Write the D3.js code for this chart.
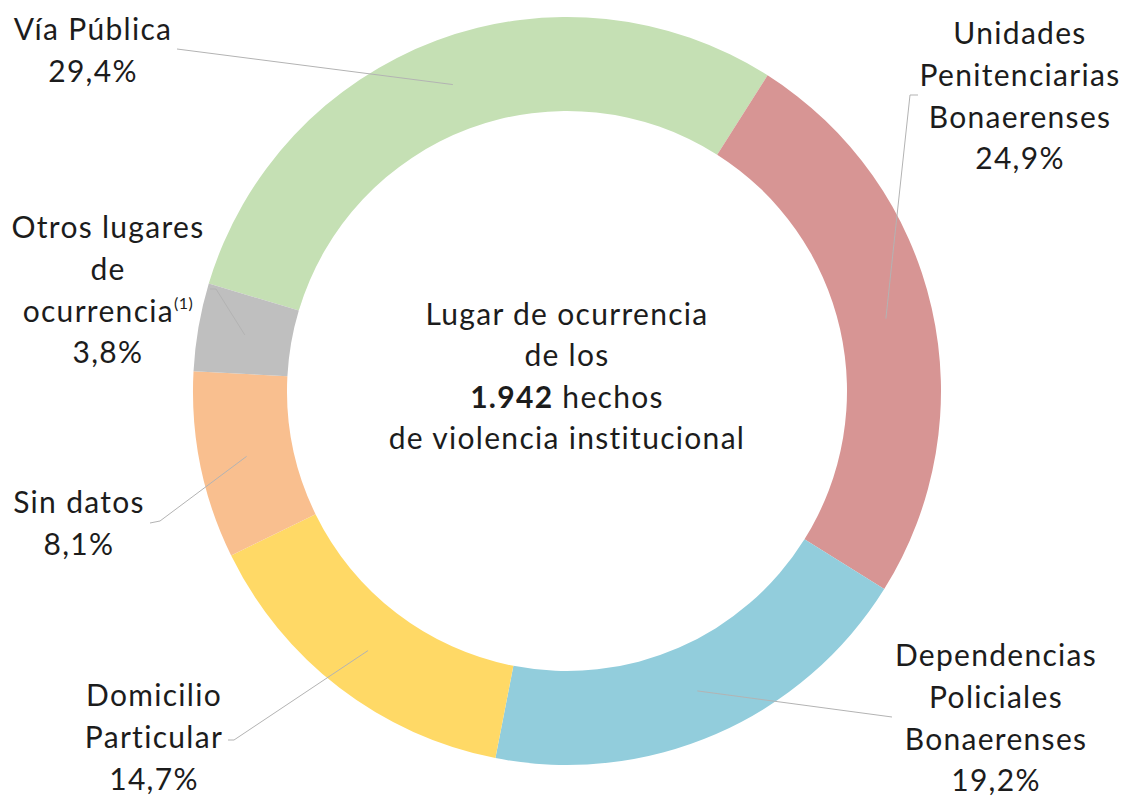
<!DOCTYPE html>
<html>
<head>
<meta charset="utf-8">
<script src="https://cdn.jsdelivr.net/npm/d3@7"></script>
<style>
  body { margin: 0; background: #fff; }
  svg text { font-family: Lato, "Noto Sans", sans-serif; fill: #1c1c1c; letter-spacing: 1.3px; }
</style>
</head>
<body>
<svg id="viz"></svg>
<script>
// window sizing
var width = 1131,
    height = 796;

// categories and their share (%)
var categories = ["Vía Pública", "Unidades Penitenciarias Bonaerenses", "Dependencias Policiales Bonaerenses",
                  "Domicilio Particular", "Sin datos", "Otros lugares de ocurrencia"];
var shares = [29.4, 24.9, 19.2, 14.7, 8.1, 3.8];
var shareLabels = ["29,4%", "24,9%", "19,2%", "14,7%", "8,1%", "3,8%"];
var colors = ["#c5e0b4", "#d79594", "#92cddc", "#ffd966", "#f9bf8f", "#bfbfbf"];

// label lines, as broken in the picture
var labelLines = [
    ["Vía Pública"],
    ["Unidades", "Penitenciarias", "Bonaerenses"],
    ["Dependencias", "Policiales", "Bonaerenses"],
    ["Domicilio", "Particular"],
    ["Sin datos"],
    ["Otros lugares", "de", "ocurrencia"]
];

// label placement: centre x, first baseline, and leader end / elbow
var labelPos = [
    {x: 93,   y: 40,  end: [177, 49]},
    {x: 1020, y: 44,  end: [918, 95], elbow: [910, 95]},
    {x: 996,  y: 666, end: [892, 717]},
    {x: 154,  y: 706, end: [228, 740], elbow: [234, 740]},
    {x: 79,   y: 513, end: [150, 523], elbow: [160, 521]},
    {x: 108,  y: 238, end: [210, 289], elbow: [216, 289]}
];

var cx = 567, cy = 391;
var outerR = 374, innerR = 280;
var lineH = 41.8;

var svg = d3.select("#viz").attr("width", width).attr("height", height);
var container = svg.append("g").attr("transform", "translate(" + cx + "," + cy + ")");

// donut layout, first slice (Vía Pública) starts left of the top
var start = -73.3 * Math.PI / 180;
var pie = d3.pie().sort(null).value(function(d) { return d; })
    .startAngle(start).endAngle(start + 2 * Math.PI);
var arc = d3.arc().innerRadius(innerR).outerRadius(outerR);
var arcs = pie(shares);

container.append("g").attr("class", "slices")
    .selectAll("path")
    .data(arcs)
    .enter()
    .append("path")
    .attr("d", arc)
    .attr("fill", function(d, i) { return colors[i]; });

// leader lines from slice centroid to the label
container.append("g").attr("class", "leaders")
    .selectAll("polyline")
    .data(arcs)
    .enter()
    .append("polyline")
    .attr("fill", "none")
    .attr("stroke", "#b3b3b3")
    .attr("stroke-width", 1)
    .attr("points", function(d, i) {
        var c = arc.centroid(d);
        var p = labelPos[i];
        var pts = [[p.end[0] - cx, p.end[1] - cy]];
        if (p.elbow) pts.push([p.elbow[0] - cx, p.elbow[1] - cy]);
        pts.push(c);
        return pts.map(function(q) { return q.join(","); }).join(" ");
    });

// outside labels
var labels = svg.append("g").attr("class", "labels")
    .selectAll("text")
    .data(categories)
    .enter()
    .append("text")
    .attr("text-anchor", "middle")
    .attr("font-size", 30)
    .attr("x", function(d, i) { return labelPos[i].x; })
    .attr("y", function(d, i) { return labelPos[i].y; });

labels.each(function(d, i) {
    var t = d3.select(this);
    var lines = labelLines[i];
    lines.forEach(function(line, k) {
        t.append("tspan")
            .attr("x", labelPos[i].x)
            .attr("y", labelPos[i].y + k * lineH)
            .text(line);
    });
    if (categories[i].indexOf("Otros") == 0) {
        t.append("tspan").attr("font-size", 16).attr("dy", -13).style("letter-spacing", "0.5px").text("(1)");
    }
    t.append("tspan")
        .attr("x", labelPos[i].x)
        .attr("y", labelPos[i].y + lines.length * lineH)
        .text(shareLabels[i]);
});

// centre title
var total = 1942;
var title = svg.append("text")
    .attr("text-anchor", "middle")
    .attr("font-size", 30)
    .attr("x", cx);
title.append("tspan").attr("x", cx).attr("y", 325).text("Lugar de ocurrencia");
title.append("tspan").attr("x", cx).attr("y", 366).text("de los");
var l3 = title.append("tspan").attr("x", cx).attr("y", 408);
l3.append("tspan").attr("font-weight", 700).text(d3.format(",")(total).replace(",", "."));
l3.append("tspan").text(" hechos");
title.append("tspan").attr("x", cx).attr("y", 449).text("de violencia institucional");
</script>
</body>
</html>
